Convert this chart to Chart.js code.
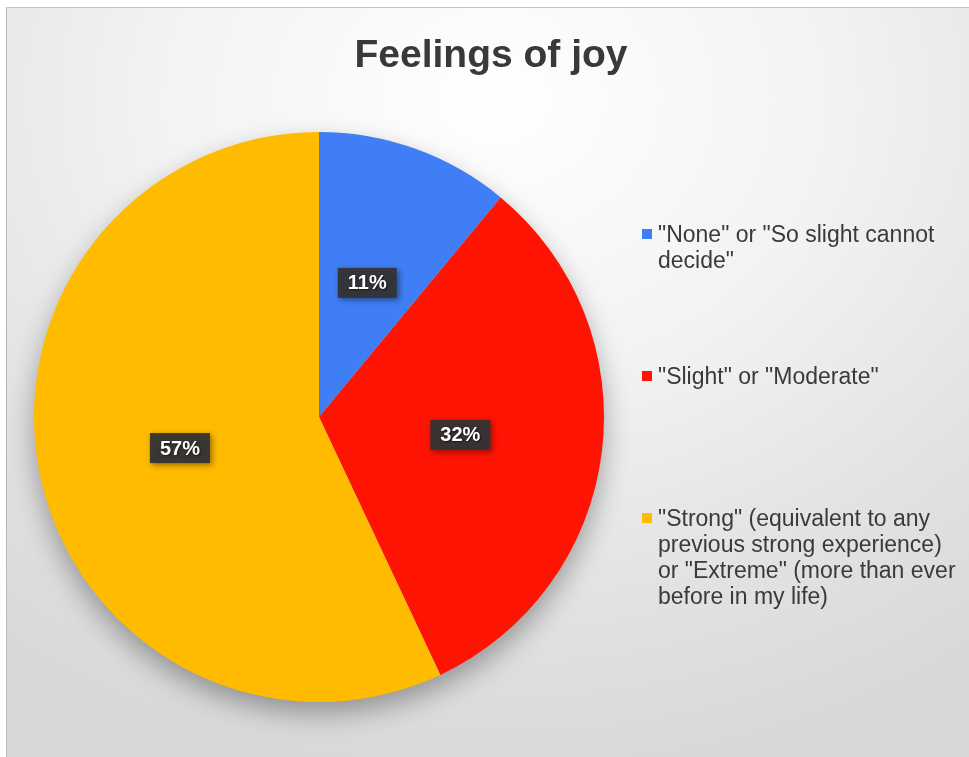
<!DOCTYPE html>
<html>
<head>
<meta charset="utf-8">
<script src="https://cdn.jsdelivr.net/npm/chart.js@4"></script>
<style>
  html, body { margin: 0; padding: 0; width: 969px; height: 757px; overflow: hidden; background: #fff; }
  #frame {
    position: absolute; left: 6px; top: 7px; width: 975px; height: 760px;
    border-left: 1px solid #b8b8b8; border-top: 1px solid #c4c4c4;
    background: radial-gradient(ellipse 85% 90% at 50% 12%, #ffffff 0%, #f3f3f3 40%, #e2e2e2 75%, #d8d8d8 100%);
  }
  #wrap { position: absolute; left: 0; top: 0; width: 968px; height: 749px; }
</style>
</head>
<body>
<div id="frame"><div id="wrap"><canvas id="myChart"></canvas></div></div>
<script>
const chartTitle = 'Feelings of joy';
const categories = [
    ['"None" or "So slight cannot', 'decide"'],
    ['"Slight" or "Moderate"'],
    ['"Strong" (equivalent to any', 'previous strong experience)', 'or "Extreme" (more than ever', 'before in my life)']
];
const values = [11, 32, 57];
const valueLabels = ['11%', '32%', '57%'];
const colors = ['rgb(64,126,245)', 'rgb(255,20,4)', 'rgb(255,187,0)'];

// sombra do círculo, título, rótulos e legenda
const decorPlugin = {
    id: 'decor',
    beforeDatasetsDraw(chart) {
        const arc = chart.getDatasetMeta(0).data[0];
        const ctx = chart.ctx;
        ctx.save();
        ctx.shadowColor = 'rgba(0,0,0,0.35)';
        ctx.shadowBlur = 28;
        ctx.shadowOffsetY = 12;
        ctx.fillStyle = '#d0d0d0';
        ctx.beginPath();
        ctx.arc(arc.x, arc.y, arc.outerRadius - 1, 0, Math.PI * 2);
        ctx.fill();
        ctx.restore();
    },
    afterDatasetsDraw(chart) {
        const ctx = chart.ctx;
        const meta = chart.getDatasetMeta(0);

        // rótulos de porcentagem
        ctx.save();
        ctx.font = 'bold 20px "Liberation Sans", Arial, sans-serif';
        ctx.textAlign = 'center';
        ctx.textBaseline = 'middle';
        meta.data.forEach((arc, i) => {
            const p = arc.tooltipPosition();
            const w = ctx.measureText(valueLabels[i]).width + 20;
            const h = 30;
            ctx.shadowColor = 'rgba(0,0,0,0.45)';
            ctx.shadowBlur = 6;
            ctx.shadowOffsetX = 2;
            ctx.shadowOffsetY = 2;
            ctx.fillStyle = 'rgba(52,52,52,0.95)';
            ctx.fillRect(p.x - w / 2, p.y - h / 2, w, h);
            ctx.shadowColor = 'rgba(0,0,0,0.6)';
            ctx.shadowBlur = 2;
            ctx.shadowOffsetX = 1;
            ctx.shadowOffsetY = 1;
            ctx.fillStyle = '#ffffff';
            ctx.fillText(valueLabels[i], p.x, p.y + 1);
        });
        ctx.restore();

        // título
        ctx.save();
        ctx.font = 'bold 39px "Liberation Sans", Arial, sans-serif';
        ctx.fillStyle = '#393939';
        ctx.textAlign = 'center';
        ctx.textBaseline = 'alphabetic';
        ctx.fillText(chartTitle, chart.width / 2, 59);
        ctx.restore();

        // legenda
        ctx.save();
        ctx.font = '23px "Liberation Sans", Arial, sans-serif';
        ctx.textAlign = 'left';
        ctx.textBaseline = 'alphabetic';
        const lx = 635, startY = 234, step = 142, lineH = 26;
        categories.forEach((lines, i) => {
            const y = startY + i * step;
            ctx.fillStyle = colors[i];
            ctx.fillRect(lx, y - 13, 10, 10);
            ctx.fillStyle = '#3a3a3a';
            lines.forEach((line, j) => {
                ctx.fillText(line, lx + 16, y + j * lineH);
            });
        });
        ctx.restore();
    }
};

const ctx = document.getElementById('myChart').getContext('2d');
const myChart = new Chart(ctx, {
    type: 'pie',
    data: {
        labels: categories,
        datasets: [{
            data: values,
            backgroundColor: colors,
            borderWidth: 0
        }]
    },
    options: {
        responsive: true,
        maintainAspectRatio: false,
        animation: false,
        layout: {
            padding: { left: 27, right: 371, top: 123, bottom: 54 }
        },
        plugins: {
            legend: { display: false },
            title: { display: false },
            tooltip: { enabled: false }
        }
    },
    plugins: [decorPlugin]
});
</script>
</body>
</html>
